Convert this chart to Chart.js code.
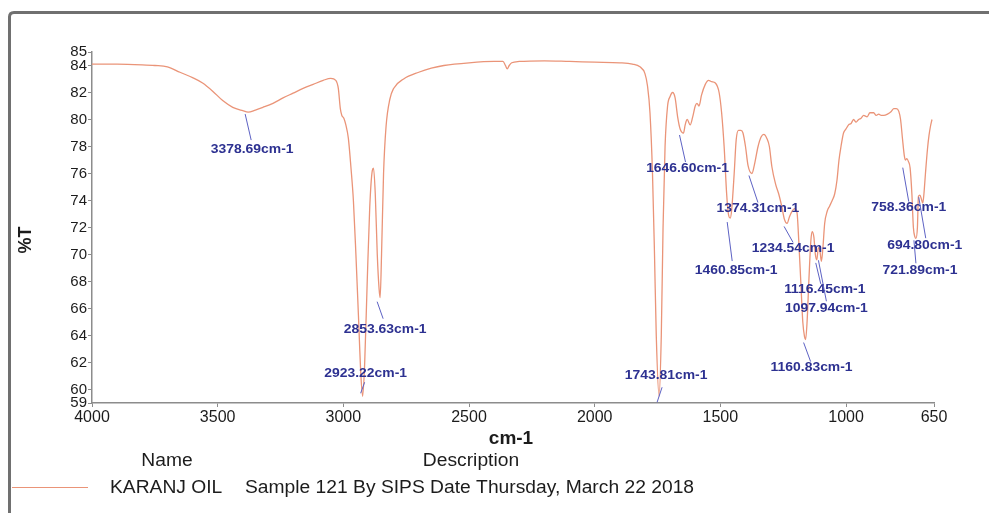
<!DOCTYPE html>
<html>
<head>
<meta charset="utf-8">
<script src="https://cdn.jsdelivr.net/npm/chart.js@4.4.1/dist/chart.umd.min.js"></script>
<style>
  html, body { margin: 0; padding: 0; background: #ffffff; }
  #wrap { width: 989px; height: 513px; }
</style>
</head>
<body>
<div id="wrap"><canvas id="ftir" width="989" height="513"></canvas></div>
<script>
// FTIR spectrum of Karanj oil: wavenumber (cm-1) vs transmittance (%T)
const wavenumbers = [
  4000, 3900, 3800, 3750, 3700, 3650, 3600, 3560, 3520, 3480, 3440, 3400, 3378.69,
  3350, 3320, 3280, 3240, 3200, 3160, 3120, 3080, 3050, 3030, 3020, 3012, 3006,
  2998, 2990, 2980, 2970, 2960, 2950, 2940, 2930, 2923.22, 2915, 2905, 2895, 2885,
  2880, 2873, 2865, 2858, 2853.63, 2848, 2840, 2830, 2815, 2800, 2760, 2700, 2650,
  2600, 2500, 2400, 2365, 2355, 2348, 2340, 2330, 2300, 2200, 2100, 2000, 1900,
  1850, 1820, 1800, 1790, 1780, 1770, 1762, 1755, 1743.81, 1735, 1728, 1720, 1710,
  1700, 1690, 1680, 1670, 1660, 1646.60, 1640, 1632, 1620, 1610, 1600, 1593, 1585,
  1575, 1560, 1547, 1535, 1520, 1505, 1495, 1485, 1475, 1468, 1460.85, 1455, 1445,
  1437, 1428, 1418, 1410, 1400, 1390, 1374.31, 1365, 1350, 1338, 1327, 1315, 1305,
  1295, 1280, 1268, 1255, 1245, 1234.54, 1225, 1215, 1205, 1195, 1188, 1180, 1172,
  1165, 1160.83, 1155, 1148, 1140, 1135, 1128, 1122, 1116.45, 1110, 1105, 1100,
  1097.94, 1092, 1085, 1075, 1065, 1055, 1045, 1036, 1028, 1020, 1010, 1000, 990,
  980, 970, 960, 950, 940, 930, 916, 905, 890, 880, 870, 860, 850, 835, 820, 810,
  800, 790, 783, 775, 768, 764, 758.36, 752, 745, 738, 732, 726, 721.89, 716, 712,
  706, 700, 694.80, 690, 684, 676, 670, 664, 658
];
const transmittance = [
  84.1, 84.1, 84.05, 84.0, 83.9, 83.5, 83.1, 82.7, 82.1, 81.4, 80.9, 80.65, 80.55,
  80.7, 80.9, 81.2, 81.6, 81.95, 82.3, 82.6, 82.9, 83.05, 82.9, 82.3, 80.8, 80.3,
  80.1, 79.6, 78.6, 76.5, 74.0, 70.0, 65.5, 61.0, 59.5, 62.0, 68.0, 73.5, 76.2,
  76.4, 74.5, 70.0, 67.5, 66.8, 70.0, 76.0, 79.5, 81.5, 82.3, 83.0, 83.5, 83.8,
  84.0, 84.2, 84.3, 84.3, 84.0, 83.75, 84.0, 84.2, 84.3, 84.35, 84.3, 84.25, 84.2,
  84.1, 83.9, 83.4, 82.5, 80.5, 76.0, 70.0, 64.0, 59.5, 64.0, 72.0, 78.0, 81.0,
  81.7, 82.0, 81.6, 80.2, 79.3, 79.0, 79.6, 80.0, 79.6, 80.2, 81.0, 81.2, 81.0,
  81.8, 82.6, 82.9, 82.8, 82.7, 82.0, 80.5, 78.0, 74.5, 73.0, 72.7, 73.3, 76.0,
  78.5, 79.2, 79.2, 79.0, 78.0, 76.6, 76.0, 76.6, 78.0, 78.7, 78.9, 78.6, 78.0,
  76.5, 75.2, 74.5, 73.5, 72.6, 72.3, 72.8, 73.2, 73.4, 73.1, 71.0, 68.0, 65.0,
  63.9, 63.7, 65.0, 68.0, 71.0, 71.7, 71.3, 70.0, 69.6, 70.5, 70.4, 69.7,
  69.5, 70.5, 72.3, 73.2, 73.6, 74.0, 74.5, 75.5, 77.0, 78.0, 79.0, 79.3, 79.6,
  79.7, 80.0, 79.8, 80.0, 80.1, 80.3, 80.2, 80.5, 80.5, 80.3, 80.4, 80.3, 80.3, 80.4, 80.6, 80.8,
  80.8, 80.6, 80.0, 78.5, 77.3, 77.0, 77.1, 76.9, 76.4, 74.5, 72.0, 71.3, 71.2, 72.0, 74.3,
  74.4, 74.1, 73.8, 74.5, 76.0, 77.8, 78.8, 79.5, 80.0
];

// Axis ticks
const xTicks = [4000, 3500, 3000, 2500, 2000, 1500, 1000, 650];
const yTicks = [59, 60, 62, 64, 66, 68, 70, 72, 74, 76, 78, 80, 82, 84, 85];

// Annotated peaks (cm-1)
const peakWavenumbers = [3378.69, 2923.22, 2853.63, 1743.81, 1646.60, 1460.85, 1374.31,
                         1234.54, 1160.83, 1116.45, 1097.94, 758.36, 721.89, 694.80];

// Placement of each peak label relative to its peak: text centre and leader line ends (px)
const peakLabelPlacement = {
  '3378.69': { tx: 4,  ty: 37, l0: [-3, 2],  l1: [3, 28] },
  '2923.22': { tx: 3,  ty: -23, l0: [-2, -3], l1: [2, -14] },
  '2853.63': { tx: 5,  ty: 32, l0: [-3, 4],  l1: [3, 21] },
  '1743.81': { tx: 7,  ty: -21, l0: [-2, 6],  l1: [3, -9] },
  '1646.60': { tx: 4,  ty: 35, l0: [-4, 2],  l1: [2, 29] },
  '1460.85': { tx: 6,  ty: 52, l0: [-3, 4],  l1: [2, 43] },
  '1374.31': { tx: 6,  ty: 35, l0: [-3, 2],  l1: [6, 29] },
  '1234.54': { tx: 6,  ty: 25, l0: [-3, 3],  l1: [6, 19] },
  '1160.83': { tx: 6,  ty: 28, l0: [-2, 3],  l1: [5, 22] },
  '1116.45': { tx: 8,  ty: 30, l0: [-1, 3],  l1: [4, 24] },
  '1097.94': { tx: 5,  ty: 47, l0: [-3, -1], l1: [5, 40] },
  '758.36':  { tx: 2,  ty: 49, l0: [-4, 9],  l1: [2, 43] },
  '721.89':  { tx: 4,  ty: 32, l0: [-2, 2],  l1: [0, 25] },
  '694.80':  { tx: 2,  ty: 42, l0: [-4, -6], l1: [3, 35] }
};

const sampleName = 'KARANJ OIL';
const sampleDescription = 'Sample 121 By SIPS Date Thursday, March 22 2018';

const SPECTRUM_COLOR = 'rgb(234, 148, 120)';
const AXIS_COLOR = '#8c8c8c';
const TEXT_COLOR = '#1c1c1c';
const PEAK_TEXT_COLOR = '#2d3191';
const PEAK_LINE_COLOR = '#5d62c4';
const FONT = 'Arial, "Liberation Sans", Helvetica, sans-serif';

const points = wavenumbers.map((w, i) => ({ x: w, y: transmittance[i] }));

// Text drawn slightly wider than the font's natural proportions
function wideText(ctx, text, x, y, align, stretch) {
  ctx.save();
  ctx.translate(x, y);
  ctx.scale(stretch, 1);
  ctx.textAlign = align;
  ctx.fillText(text, 0, 0);
  ctx.restore();
}

// Frame, peak labels, axis titles and the sample table under the plot
const decorations = {
  id: 'decorations',
  beforeDraw(chart) {
    const ctx = chart.ctx;
    ctx.save();
    ctx.fillStyle = '#ffffff';
    ctx.fillRect(0, 0, chart.width, chart.height);
    // window frame (top and left edges)
    ctx.strokeStyle = '#707070';
    ctx.lineWidth = 3;
    ctx.beginPath();
    ctx.moveTo(9.5, chart.height);
    ctx.lineTo(9.5, 17);
    ctx.quadraticCurveTo(9.5, 12.5, 14, 12.5);
    ctx.lineTo(chart.width, 12.5);
    ctx.stroke();
    ctx.restore();
  },
  afterDatasetsDraw(chart) {
    const ctx = chart.ctx;
    const xs = chart.scales.x, ys = chart.scales.y;
    ctx.save();
    // peak labels
    ctx.font = 'bold 13px ' + FONT;
    ctx.textBaseline = 'middle';
    peakWavenumbers.forEach(w => {
      const idx = wavenumbers.indexOf(w);
      const px = xs.getPixelForValue(w);
      const py = ys.getPixelForValue(transmittance[idx]);
      const p = peakLabelPlacement[w.toFixed(2)];
      ctx.strokeStyle = PEAK_LINE_COLOR;
      ctx.lineWidth = 1;
      ctx.beginPath();
      ctx.moveTo(px + p.l0[0], py + p.l0[1]);
      ctx.lineTo(px + p.l1[0], py + p.l1[1]);
      ctx.stroke();
      ctx.fillStyle = PEAK_TEXT_COLOR;
      wideText(ctx, w.toFixed(2) + 'cm-1', px + p.tx, py + p.ty, 'center', 1.07);
    });

    // axis titles
    ctx.fillStyle = TEXT_COLOR;
    ctx.font = 'bold 19px ' + FONT;
    ctx.textAlign = 'center';
    ctx.fillText('cm-1', 511, 439);
    ctx.save();
    ctx.translate(26, 240);
    ctx.rotate(-Math.PI / 2);
    ctx.font = 'bold 18px ' + FONT;
    ctx.fillText('%T', 0, 0);
    ctx.restore();

    // sample table
    ctx.font = '17.5px ' + FONT;
    ctx.fillStyle = TEXT_COLOR;
    wideText(ctx, 'Name', 167, 461, 'center', 1.1);
    wideText(ctx, 'Description', 471, 461, 'center', 1.1);
    wideText(ctx, sampleName, 110, 488, 'left', 1.1);
    wideText(ctx, sampleDescription, 245, 488, 'left', 1.1);
    ctx.strokeStyle = SPECTRUM_COLOR;
    ctx.lineWidth = 1;
    ctx.beginPath();
    ctx.moveTo(12, 487.5);
    ctx.lineTo(88, 487.5);
    ctx.stroke();
    ctx.restore();
  }
};

new Chart(document.getElementById('ftir'), {
  type: 'line',
  data: {
    datasets: [{
      label: sampleName,
      data: points,
      borderColor: SPECTRUM_COLOR,
      borderWidth: 1.3,
      pointRadius: 0,
      cubicInterpolationMode: 'monotone',
      fill: false
    }]
  },
  options: {
    responsive: false,
    animation: false,
    layout: { padding: { top: 52, right: 55, bottom: 0, left: 0 } },
    plugins: { legend: { display: false }, tooltip: { enabled: false } },
    scales: {
      x: {
        type: 'linear',
        reverse: true,
        min: 650,
        max: 4000,
        afterBuildTicks: axis => { axis.ticks = xTicks.map(v => ({ value: v })); },
        afterFit: axis => { axis.height = 110; },
        border: { display: true, color: AXIS_COLOR, width: 1.5 },
        grid: { drawOnChartArea: false, drawTicks: true, tickLength: 4, color: AXIS_COLOR },
        ticks: {
          autoSkip: false, maxRotation: 0, padding: 1,
          color: TEXT_COLOR, font: { family: FONT, size: 16 },
          callback: v => String(v)
        }
      },
      y: {
        type: 'linear',
        min: 59,
        max: 85,
        afterBuildTicks: axis => { axis.ticks = yTicks.map(v => ({ value: v })); },
        afterFit: axis => { axis.width = 92; },
        border: { display: true, color: AXIS_COLOR, width: 1.5 },
        grid: { drawOnChartArea: false, drawTicks: true, tickLength: 4, color: AXIS_COLOR },
        ticks: {
          autoSkip: false, padding: 1,
          color: TEXT_COLOR, font: { family: FONT, size: 15 },
          callback: v => String(v)
        }
      }
    }
  },
  plugins: [decorations]
});
</script>
</body>
</html>
